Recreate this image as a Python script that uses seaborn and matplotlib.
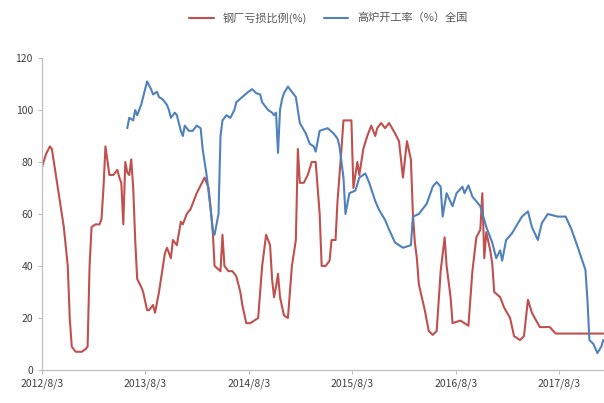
import pandas as pd
import matplotlib
matplotlib.use('Agg')
import matplotlib.pyplot as plt
import matplotlib.dates as mdates
import seaborn as sns

# weekly data, counted in weeks from 2012/8/3
START = pd.Timestamp('2012-08-03')

red_weeks = [0, 2, 4, 5, 8, 11, 13, 14, 15, 17, 20, 22, 23, 24, 25, 27, 29, 30, 31, 32,
             34, 36, 38, 39, 40, 41, 42, 43, 44, 45, 46, 47, 48, 50, 51, 53, 54, 56, 57, 59,
             60, 62, 63, 65, 66, 68, 70, 71, 73, 75, 78, 82, 84, 86, 87, 90, 91, 92, 94, 96,
             98, 100, 101, 103, 105, 107, 109, 111, 113, 115, 116, 117, 118, 119, 120, 122, 124, 126, 128, 129,
             130, 132, 134, 136, 138, 140, 141, 143, 145, 146, 148, 149, 151, 152, 156, 157, 159, 160, 162, 164,
             166, 168, 169, 171, 173, 175, 178, 180, 182, 184, 186, 187, 188, 189, 190, 193, 195, 197, 199, 201,
             203, 204, 206, 207, 211, 215, 217, 219, 221, 222, 223, 224, 226, 227, 228, 231, 233, 236, 238, 241,
             243, 245, 247, 251, 256, 259, 283]
red_vals = [78, 83, 86, 85, 70, 55, 40, 20, 9, 7, 7, 8, 9, 40, 55, 56, 56, 58, 70, 86,
            75, 75, 77, 74, 72, 56, 80, 76, 75, 81, 70, 50, 35, 32, 30, 23, 23, 25, 22, 30,
            35, 45, 47, 43, 50, 48, 57, 56, 60, 62, 68, 74, 70, 55, 40, 38, 52, 40, 38, 38,
            36, 30, 25, 18, 18, 19, 20, 40, 52, 48, 35, 28, 32, 37, 28, 21, 20, 40, 50, 85,
            72, 72, 75, 80, 80, 60, 40, 40, 42, 50, 50, 65, 85, 96, 96, 70, 80, 75, 85, 90,
            94, 90, 93, 95, 93, 95, 91, 88, 74, 88, 81, 60, 49, 43, 33, 23, 15, 13.5, 15, 38,
            51, 40, 28, 18, 19, 17, 38, 51, 54, 68, 43, 53, 46, 41, 30, 28, 24, 20, 13, 11.5,
            13, 27, 22, 16.5, 16.5, 14, 14]

blue_weeks = [43, 44, 46, 47, 48, 50, 52, 53, 55, 56, 58, 59, 61, 63, 64, 65, 67, 68, 70, 71,
              72, 74, 76, 78, 80, 81, 83, 85, 86, 87, 89, 90, 91, 93, 95, 97, 98, 101, 104, 106,
              108, 110, 111, 114, 116, 117, 118, 119, 120, 121, 122, 124, 126, 128, 130, 133, 135, 137, 138, 140,
              144, 147, 149, 150, 152, 153, 155, 158, 160, 163, 165, 168, 170, 173, 175, 178, 180, 182, 186, 187,
              190, 194, 197, 199, 201, 202, 204, 207, 209, 212, 213, 215, 217, 221, 224, 227, 229, 231, 232, 234,
              237, 240, 242, 245, 247, 250, 252, 255, 260, 264, 267, 270, 274, 275, 276, 278, 280, 282, 283]
blue_vals = [93, 97, 96, 100, 98, 102, 108, 111, 108, 106, 107, 105, 104, 102, 100, 97, 99, 98, 92, 90,
             94, 92, 92, 94, 93, 85, 75, 62, 54, 52, 60, 90, 96, 98, 97, 100, 103, 105, 107, 108,
             106.5, 106, 103, 100, 99, 98, 99, 83.5, 100, 104, 106.5, 109, 107, 105, 95, 91, 87, 86, 84, 92,
             93, 91, 89, 86, 74, 60, 68, 69, 74, 75.6, 72, 65, 61.5, 57.7, 54, 49, 48, 47, 48, 59,
             60, 64, 70.5, 72.3, 70.5, 59, 68, 63, 68, 70.5, 68, 71, 66.7, 63, 55, 49, 43, 46, 42, 50,
             52.6, 56.5, 59, 61, 55, 50, 56.5, 60, 59, 59, 54, 47.5, 38.5, 27, 11.5, 10, 6.5, 9, 11.5]

year_ticks = ['2012-08-03', '2013-08-03', '2014-08-03', '2015-08-03', '2016-08-03', '2017-08-03']
red_name = '钢厂亏损比例(%)'
blue_name = '高炉开工率（%）全国'

red = pd.DataFrame({'date': START + pd.to_timedelta(red_weeks, unit='W'), 'value': red_vals})
blue = pd.DataFrame({'date': START + pd.to_timedelta(blue_weeks, unit='W'), 'value': blue_vals})

sns.set_style('white')
plt.rcParams['font.family'] = ['Noto Sans CJK SC', 'DejaVu Sans']

fig = plt.figure(figsize=(6.04, 4.03), dpi=100)
ax = fig.add_axes([0.0695, 0.082, 0.93, 0.774])

sns.lineplot(data=red, x='date', y='value', ax=ax, color='#C0504D', linewidth=1.5, label=red_name)
sns.lineplot(data=blue, x='date', y='value', ax=ax, color='#4F81BD', linewidth=1.5, label=blue_name)

ax.set_xlim(START, START + pd.Timedelta(weeks=283.2))
ax.set_ylim(0, 120)
ax.set_yticks(range(0, 121, 20))
ax.set_xticks(pd.to_datetime(year_ticks))
ax.xaxis.set_major_formatter(mdates.DateFormatter('%Y/%-m/%-d'))
ax.set_xlabel('')
ax.set_ylabel('')

for side in ['top', 'right']:
    ax.spines[side].set_visible(False)
for side in ['left', 'bottom']:
    ax.spines[side].set_color('#BFBFBF')
    ax.spines[side].set_linewidth(0.9)
ax.tick_params(axis='both', colors='#404040', labelsize=7.5, length=3, width=0.8,
               direction='out', left=True, bottom=True)
ax.tick_params(axis='both', color='#BFBFBF')

ax.legend(loc='upper center', bbox_to_anchor=(0.51, 1.18), ncol=2, frameon=False,
          fontsize=8, handlelength=2.2, columnspacing=1.5, labelcolor='#595959')

fig.savefig('out.png', dpi=100)
